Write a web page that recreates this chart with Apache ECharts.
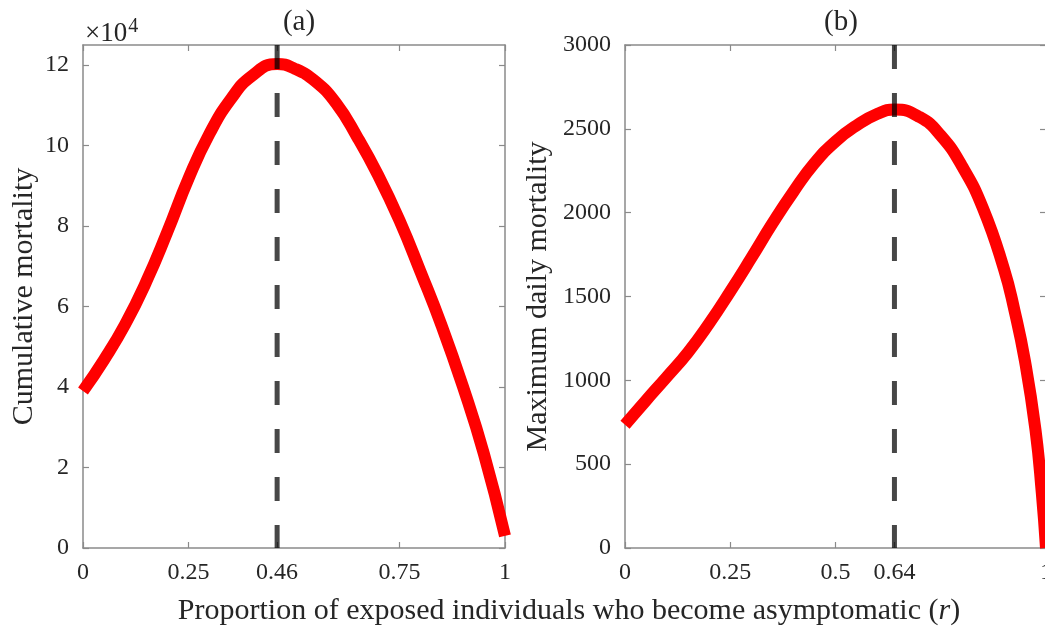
<!DOCTYPE html>
<html><head><meta charset="utf-8">
<script src="https://cdn.jsdelivr.net/npm/echarts@6/dist/echarts.min.js"></script>
<style>html,body{margin:0;padding:0;background:#fff;overflow:hidden}#c{width:1045px;height:632px}</style>
</head><body><div id="c"></div>
<script>
// ---- data ----
const rLeft = [0, 0.05, 0.1, 0.15, 0.2, 0.25, 0.3, 0.35, 0.4, 0.46, 0.5, 0.55, 0.6, 0.65, 0.7, 0.75, 0.8, 0.85, 0.9, 0.95, 1.0];
const cumulativeMortality = [39000, 46800, 55600, 66200, 78600, 91800, 103000, 111500, 117300, 120300, 119200, 116000, 110500, 102100, 92500, 81400, 68600, 55200, 40200, 23400, 3000];
const rRight = [0, 0.05, 0.1, 0.15, 0.2, 0.25, 0.3, 0.35, 0.4, 0.45, 0.5, 0.55, 0.6, 0.64, 0.7, 0.75, 0.8, 0.85, 0.9, 0.925, 0.95, 0.975, 0.99, 1.0];
const maxDailyMortality = [735, 880, 1022, 1168, 1340, 1530, 1730, 1935, 2125, 2295, 2425, 2520, 2590, 2615, 2570, 2460, 2280, 2028, 1665, 1418, 1115, 705, 330, 0];
const peakLeft = 0.46;
const peakRight = 0.64;
const xTicksLeft = [0, 0.25, 0.46, 0.75, 1];
const xTicksRight = [0, 0.25, 0.5, 0.64, 1];
const yTicksLeft = [0, 20000, 40000, 60000, 80000, 100000, 120000];
const yTicksRight = [0, 500, 1000, 1500, 2000, 2500, 3000];
const titles = ['(a)', '(b)'];
const yNames = ['Cumulative mortality', 'Maximum daily mortality'];
const xName = 'Proportion of exposed individuals who become asymptomatic ';

// ---- chart ----
const SERIF = '"Liberation Serif", "Times New Roman", serif';
const AXC = '#8a8a8a';
const TXT = '#262626';
const grids = [
  {left: 83, top: 45, width: 422, height: 503, containLabel: false, outerBoundsMode: 'none'},
  {left: 625, top: 45, width: 421, height: 503, containLabel: false, outerBoundsMode: 'none'}
];
function xAxes(gi, ticks) {
  const base = {
    gridIndex: gi, type: 'value', min: 0, max: 1,
    splitLine: {show: false},
    axisLine: {show: true, onZero: false, lineStyle: {color: AXC, width: 1.5}},
    axisTick: {show: true, inside: true, length: 6, customValues: ticks, lineStyle: {color: AXC, width: 1.2}}
  };
  return [
    Object.assign({}, base, {position: 'bottom',
      axisLabel: {customValues: ticks, formatter: v => String(v), fontFamily: SERIF, fontSize: 24, color: TXT, margin: 13,
        hideOverlap: false, showMinLabel: true, showMaxLabel: true}}),
    Object.assign({}, base, {position: 'top', axisLabel: {show: false}})
  ];
}
function yAxes(gi, ticks, max, fmt, name, gap) {
  const base = {
    gridIndex: gi, type: 'value', min: 0, max: max,
    splitLine: {show: false},
    axisLine: {show: true, onZero: false, lineStyle: {color: AXC, width: 1.5}},
    axisTick: {show: true, inside: true, length: 6, customValues: ticks, lineStyle: {color: AXC, width: 1.2}}
  };
  return [
    Object.assign({}, base, {position: 'left',
      name: name, nameLocation: 'middle', nameGap: gap,
      nameTextStyle: {fontFamily: SERIF, fontSize: 30, color: TXT},
      axisLabel: {customValues: ticks, formatter: fmt, fontFamily: SERIF, fontSize: 24, color: TXT, margin: 14}}),
    Object.assign({}, base, {position: 'right', axisLabel: {show: false}})
  ];
}
const xAxis = [].concat(xAxes(0, xTicksLeft), xAxes(1, xTicksRight));
const yAxis = [].concat(
  yAxes(0, yTicksLeft, 125000, v => String(v / 10000), yNames[0], 44),
  yAxes(1, yTicksRight, 3000, v => String(v), yNames[1], 72)
);
function pairs(xs, ys) { return xs.map((x, i) => [x, ys[i]]); }
const dash = {type: [24, 24], color: 'rgba(0,0,0,0.72)', width: 5, cap: 'butt'};
const red = {color: '#ff0000', width: 12, cap: 'butt', join: 'round'};
const series = [
  {type: 'line', xAxisIndex: 0, yAxisIndex: 0, data: pairs(rLeft, cumulativeMortality), smooth: 0.5,
   showSymbol: false, lineStyle: red, z: 2, silent: true},
  {type: 'line', xAxisIndex: 0, yAxisIndex: 0, data: [[peakLeft, 125000], [peakLeft, 0]],
   showSymbol: false, lineStyle: dash, z: 3, silent: true},
  {type: 'line', xAxisIndex: 2, yAxisIndex: 2, data: pairs(rRight, maxDailyMortality), smooth: 0.5,
   showSymbol: false, lineStyle: red, z: 2, silent: true},
  {type: 'line', xAxisIndex: 2, yAxisIndex: 2, data: [[peakRight, 3000], [peakRight, 0]],
   showSymbol: false, lineStyle: dash, z: 3, silent: true}
];
const chart = echarts.init(document.getElementById('c'), null, {renderer: 'canvas'});
chart.setOption({
  animation: false,
  backgroundColor: '#fff',
  grid: grids,
  xAxis: xAxis,
  yAxis: yAxis,
  series: series,
  title: [
    {text: titles[0], left: 294, top: 3, textAlign: 'center', textStyle: {fontFamily: SERIF, fontSize: 29, fontWeight: 'normal', color: TXT}},
    {text: titles[1], left: 836, top: 3, textAlign: 'center', textStyle: {fontFamily: SERIF, fontSize: 29, fontWeight: 'normal', color: TXT}},
    {text: '×10{s|4}', left: 80, top: 12, textStyle: {fontFamily: SERIF, fontSize: 27, fontWeight: 'normal', color: TXT,
      rich: {s: {fontFamily: SERIF, fontSize: 20, color: TXT, verticalAlign: 'top', padding: [0, 0, 14, 1]}}}},
    {text: xName + '({i|r})', left: 564, top: 591, textAlign: 'center',
      textStyle: {fontFamily: SERIF, fontSize: 30, fontWeight: 'normal', color: TXT,
        rich: {i: {fontFamily: SERIF, fontSize: 30, fontStyle: 'italic', color: TXT}}}}
  ]
});
</script></body></html>
